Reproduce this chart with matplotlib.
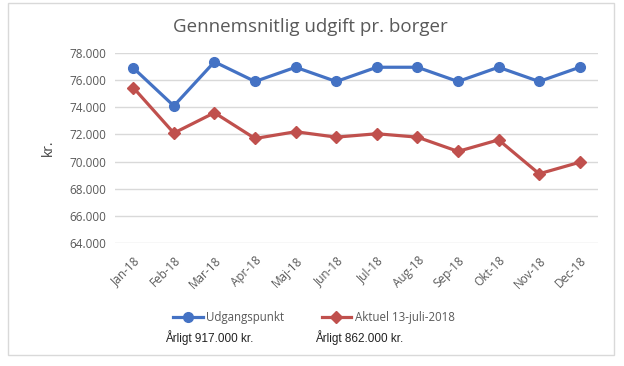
import matplotlib
matplotlib.use("Agg")
import matplotlib.pyplot as plt
from matplotlib.lines import Line2D
from matplotlib.patches import Rectangle

months = ["Jan-18", "Feb-18", "Mar-18", "Apr-18", "Maj-18", "Jun-18",
          "Jul-18", "Aug-18", "Sep-18", "Okt-18", "Nov-18", "Dec-18"]
udgangspunkt = [76.9, 74.1, 77.35, 75.9, 76.95, 75.9, 76.95, 76.95, 75.9, 76.95, 75.9, 76.95]
aktuel = [75.45, 72.1, 73.6, 71.7, 72.2, 71.8, 72.05, 71.8, 70.75, 71.6, 69.1, 69.95]
yticks = [64, 66, 68, 70, 72, 74, 76, 78]
ytick_labels = ["64.000", "66.000", "68.000", "70.000", "72.000", "74.000", "76.000", "78.000"]
series_names = ["Udgangspunkt", "Aktuel 13-juli-2018"]
annual_texts = ["Årligt 917.000 kr.", "Årligt 862.000 kr."]

blue = "#4472C4"
red = "#C0504D"
gray = "#595959"
font = "Open Sans"

W, H = 624, 366
fig = plt.figure(figsize=(W / 100, H / 100), dpi=100)
fig.patch.set_facecolor("white")

# outer border
fig.add_artist(Rectangle((8 / W, 1 - 355 / H), 606 / W, 352 / H, transform=fig.transFigure,
                         fill=False, edgecolor="#D9D9D9", linewidth=1))

ax = fig.add_axes([115 / W, 1 - 243 / H, (598 - 115) / W, (243 - 53) / H])
x = list(range(len(months)))
ax.plot(x, udgangspunkt, color=blue, lw=2.3, marker="o", ms=7, zorder=3)
ax.plot(x, aktuel, color=red, lw=2.3, marker="D", ms=6, zorder=3)

ax.set_xlim(-0.45, len(months) - 0.55)
ax.set_ylim(64, 78)
ax.set_yticks(yticks)
ax.set_yticklabels(ytick_labels, fontsize=8.5, color=gray, family=font)
ax.set_xticks(x)
ax.set_xticklabels(months, rotation=45, ha="right", rotation_mode="anchor",
                   fontsize=8.5, color=gray, family=font)
ax.tick_params(axis="both", length=0, pad=6)
ax.tick_params(axis="x", pad=8)
ax.grid(axis="y", color="#D9D9D9", lw=1)
ax.set_axisbelow(True)
for s in ax.spines.values():
    s.set_visible(False)
ax.set_ylabel("kr.", fontsize=10, color="#404040", family=font, labelpad=10)

fig.text(310 / W, 1 - 27 / H, "Gennemsnitlig udgift pr. borger", ha="center", va="center",
         fontsize=13.5, color=gray, family=font)

# legend
handles = [Line2D([0], [0], color=blue, lw=2.3, marker="o", ms=7),
           Line2D([0], [0], color=red, lw=2.3, marker="D", ms=6)]
fig.legend(handles, series_names, loc="center", bbox_to_anchor=(314 / W, 1 - 318 / H),
           ncol=2, frameon=False, prop={"family": font, "size": 8.3}, labelcolor=gray,
           handlelength=2.6, handletextpad=0.3, columnspacing=3.2)

fig.text(165 / W, 1 - 338 / H, annual_texts[0], ha="left", va="center", fontsize=8.5,
         color="#222222", family="Liberation Sans")
fig.text(315 / W, 1 - 338 / H, annual_texts[1], ha="left", va="center", fontsize=8.5,
         color="#222222", family="Liberation Sans")

fig.savefig("out.png", dpi=100)
